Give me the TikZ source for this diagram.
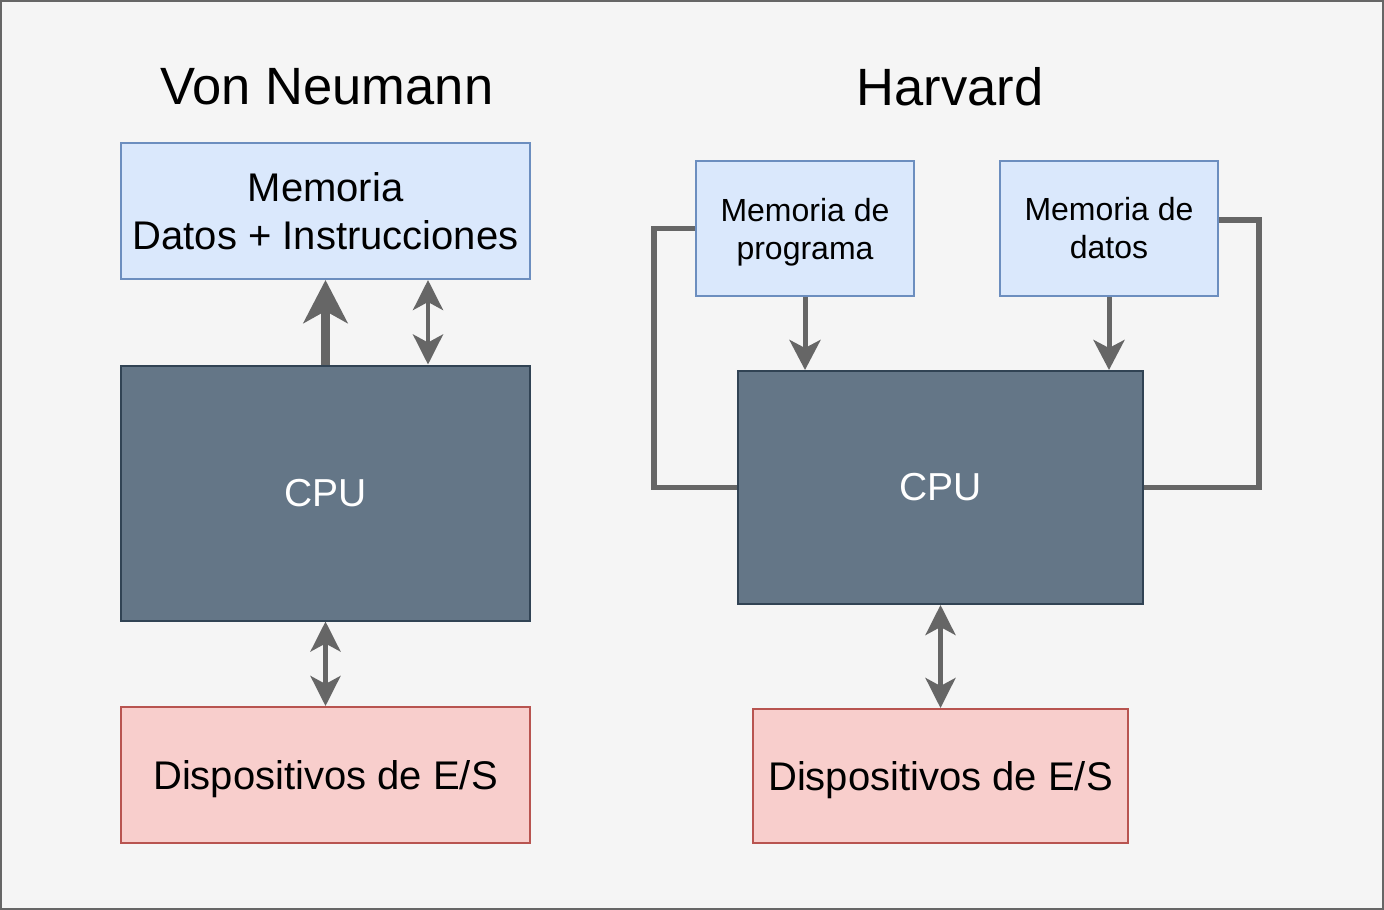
\documentclass[tikz,border=0pt]{standalone}
\usepackage{fontspec}
\setmainfont{Liberation Sans}
\usetikzlibrary{arrows.meta,positioning,calc}
\definecolor{bgfill}{HTML}{F5F5F5}
\definecolor{bgline}{HTML}{666666}
\definecolor{memfill}{HTML}{DAE8FC}
\definecolor{memline}{HTML}{6C8EBF}
\definecolor{cpufill}{HTML}{647687}
\definecolor{cpuline}{HTML}{314354}
\definecolor{iofill}{HTML}{F8CECC}
\definecolor{ioline}{HTML}{B85450}
\definecolor{arrgray}{HTML}{666666}

\begin{document}
\begin{tikzpicture}[x=1pt, y=-1pt,
  title/.style={font=\fontsize{52.5}{62}\selectfont},
  mem/.style={draw=memline, fill=memfill, line width=2pt, align=center, inner sep=0pt},
  cpu/.style={draw=cpuline, fill=cpufill, line width=2pt, text=white, font=\fontsize{39}{46}\selectfont},
  io/.style={draw=ioline, fill=iofill, line width=2pt, inner sep=0pt, text depth=0pt, font=\fontsize{40}{48}\selectfont},
  bigarr/.style={-{Stealth[length=43pt, width=44pt, inset=12pt]}, line width=9pt, draw=arrgray, fill=arrgray},
  dblarr/.style={{Stealth[length=30pt, width=30pt, inset=8pt]}-{Stealth[length=30pt, width=30pt, inset=8pt]}, line width=4.5pt, draw=arrgray, fill=arrgray},
  arr/.style={-{Stealth[length=30pt, width=31pt, inset=8pt]}, line width=5pt, draw=arrgray, fill=arrgray},
  bus/.style={line width=5.5pt, draw=arrgray}
]
\useasboundingbox (0,0) rectangle (1384,910);
\draw[fill=bgfill, draw=bgline, line width=2pt] (1,1) rectangle (1383,909);

% Von Neumann
\node[title] (vntitle) at (327,87) {Von Neumann};
\node[mem, minimum width=409, minimum height=136, font=\fontsize{40}{48}\selectfont] (memvn) at (325.5,211) {Memoria\\Datos + Instrucciones};
\node[cpu, minimum width=409, minimum height=255] (cpuvn) at (325.5,493) {CPU};
\node[io, minimum width=409, minimum height=136] (iovn) at (325.5,775) {Dispositivos de E/S};

% Harvard
\node[title] (hvtitle) at (950,87) {Harvard};
\node[mem, minimum width=218, minimum height=135, text depth=0pt, font=\fontsize{32}{38}\selectfont] (memprog) at (805,228.5) {Memoria de\\programa};
\node[mem, minimum width=218, minimum height=135, font=\fontsize{32}{38}\selectfont] (memdat) at (1109,228.5) {Memoria de\\datos};
\node[cpu, minimum width=405, minimum height=233] (cpuhv) at (940.5,487.5) {CPU};
\node[io, minimum width=375, minimum height=134] (iohv) at (940.5,776) {Dispositivos de E/S};

\draw[bigarr] (cpuvn.north) -- (memvn.south);
\draw[dblarr] ([xshift=102.5]memvn.south) -- ([xshift=102.5]cpuvn.north);
\draw[dblarr] (cpuvn.south) -- (iovn.north);

\draw[arr] (memprog.south) -- (memprog.south |- cpuhv.north);
\draw[arr] (memdat.south) -- (memdat.south |- cpuhv.north);
\draw[bus] (memprog.west) -- ++(-41,0) |- (cpuhv.west);
\draw[bus] ([yshift=8.5]memdat.east) -- ++(40,0) |- (cpuhv.east);
\draw[dblarr] (cpuhv.south) -- (iohv.north);
\end{tikzpicture}
\end{document}
